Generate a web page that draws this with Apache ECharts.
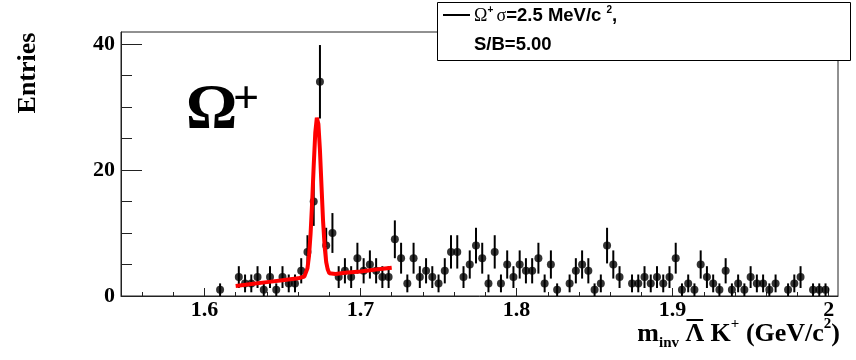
<!DOCTYPE html>
<html>
<head>
<meta charset="utf-8">
<script src="https://cdn.jsdelivr.net/npm/echarts@6/dist/echarts.min.js"></script>
<style>
  html, body { margin: 0; padding: 0; background: #ffffff; }
  #chart { width: 856px; height: 360px; }
</style>
</head>
<body>
<div id="chart"></div>
<script>
// Invariant-mass histogram of anti-Lambda K+ pairs (4 MeV bins)
const binCenters = [
  1.610, 1.614, 1.618, 1.622, 1.626, 1.630, 1.634, 1.638, 1.642, 1.646,
  1.650, 1.654, 1.658, 1.662, 1.666, 1.670, 1.674, 1.678, 1.682, 1.686,
  1.690, 1.694, 1.698, 1.702, 1.706, 1.710, 1.714, 1.718, 1.722, 1.726,
  1.730, 1.734, 1.738, 1.742, 1.746, 1.750, 1.754, 1.758, 1.762, 1.766,
  1.770, 1.774, 1.778, 1.782, 1.786, 1.790, 1.794, 1.798, 1.802, 1.806,
  1.810, 1.814, 1.818, 1.822, 1.826, 1.830, 1.834, 1.838, 1.842, 1.846,
  1.850, 1.854, 1.858, 1.862, 1.866, 1.870, 1.874, 1.878, 1.882, 1.886,
  1.890, 1.894, 1.898, 1.902, 1.906, 1.910, 1.914, 1.918, 1.922, 1.926,
  1.930, 1.934, 1.938, 1.942, 1.946, 1.950, 1.954, 1.958, 1.962, 1.966,
  1.970, 1.974, 1.978, 1.982, 1.986, 1.990, 1.994, 1.998
];

// Counts per bin; null = empty bin (not drawn)
const entries = [
  1, null, null, 3, 2, 2, 3, 1, 3, 1,
  3, 2, 2, 4, 7, 15, 34, 8, 10, 3,
  4, 3, 6, 4, 5, 4, 3, 3, 9, 6,
  2, 6, 3, 4, 3, 2, 4, 7, 7, 3,
  5, 8, 6, 2, 7, 2, 5, 3, 5, 4,
  4, 6, 2, 5, 1, null, 2, 4, 5, 4,
  1, 2, 8, 5, 3, null, 2, 2, 3, 2,
  3, 2, 3, 6, 1, 2, 1, 5, 3, 2,
  1, 4, 1, 2, 1, 3, 2, 2, 1, 2,
  null, 1, 2, 3, null, 1, 1, 1
];

// Fitted signal + background curve
const fitMass = [
  1.620, 1.630, 1.640, 1.650, 1.660, 1.664, 1.666, 1.667, 1.668, 1.669,
  1.670, 1.671, 1.672, 1.673, 1.674, 1.675, 1.676, 1.677, 1.678, 1.679,
  1.680, 1.684, 1.690, 1.700, 1.710, 1.720
];
const fitEntries = [
  1.6, 1.9, 2.2, 2.5, 2.8, 3.1, 4.4, 6.4, 9.9, 14.9,
  20.7, 25.9, 28.3, 27.3, 23.1, 17.4, 11.9, 7.9, 5.4, 4.2,
  3.6, 3.5, 3.7, 3.9, 4.2, 4.5
];

// Axis ticks
const xMajorTicks = [1.6, 1.7, 1.8, 1.9, 2.0];
const xMinorTicks = [1.56, 1.58, 1.62, 1.64, 1.66, 1.68, 1.72, 1.74, 1.76, 1.78,
                     1.82, 1.84, 1.86, 1.88, 1.92, 1.94, 1.96, 1.98];
const yMajorTicks = [0, 20, 40];
const yMinorTicks = [5, 10, 15, 25, 30, 35];

const X_MIN = 1.5465, X_MAX = 2.006;
const Y_MIN = 0, Y_MAX = 41.9;

const SERIF = '"Liberation Serif", "Times New Roman", serif';
const SANS = '"Liberation Sans", Arial, Helvetica, sans-serif';

const points = [];
binCenters.forEach((m, i) => {
  if (entries[i] !== null) points.push([m, entries[i]]);
});
const fitLine = fitMass.map((m, i) => [m, fitEntries[i]]);

// --- x-axis title, laid out piece by piece (sub/superscripts and the bar over Lambda)
const measureCtx = document.createElement('canvas').getContext('2d');
function textWidth(str, font) {
  measureCtx.font = font;
  return measureCtx.measureText(str).width;
}
const TITLE_RIGHT = 840, TITLE_MID = 334;
const fBig = 'bold 26px ' + SERIF, fSmall = 'bold 15px ' + SERIF;
const titlePieces = [
  { t: 'm', f: fBig, dy: 0 },
  { t: 'inv', f: fSmall, dy: 9 },
  { t: ' ', f: fBig, dy: 0 },
  { t: 'Λ', f: fBig, dy: 0, bar: true },
  { t: ' K', f: fBig, dy: 0 },
  { t: '+', f: fSmall, dy: -10 },
  { t: ' (GeV/c', f: fBig, dy: 0 },
  { t: '2', f: fSmall, dy: -10 },
  { t: ')', f: fBig, dy: 0 }
];
const titleWidth = titlePieces.reduce((s, p) => s + textWidth(p.t, p.f), 0);
const titleGraphics = [];
let cx = TITLE_RIGHT - titleWidth;
titlePieces.forEach(p => {
  const w = textWidth(p.t, p.f);
  titleGraphics.push({
    type: 'text', x: cx, y: TITLE_MID + p.dy,
    style: { text: p.t, font: p.f, fill: '#000', align: 'left', verticalAlign: 'middle' }
  });
  if (p.bar) {
    titleGraphics.push({
      type: 'line',
      shape: { x1: cx + 1, y1: TITLE_MID - 14, x2: cx + w - 1, y2: TITLE_MID - 14 },
      style: { stroke: '#000', lineWidth: 2 }
    });
  }
  cx += w;
});

const chart = echarts.init(document.getElementById('chart'), null, { renderer: 'canvas' });

const axisText = { fontFamily: SERIF, fontWeight: 'bold', fontSize: 22, color: '#000' };

chart.setOption({
  animation: false,
  backgroundColor: '#ffffff',
  grid: {
    left: 121, right: 18, top: 32, bottom: 64,
    show: true, borderColor: '#222', borderWidth: 1, backgroundColor: 'transparent'
  },
  xAxis: [
    {
      type: 'value', min: X_MIN, max: X_MAX, position: 'bottom',
      axisLine: { show: true, onZero: false, lineStyle: { color: '#222', width: 1 } },
      axisTick: { show: true, inside: true, length: 8, customValues: xMajorTicks,
                  lineStyle: { color: '#222', width: 1 } },
      axisLabel: Object.assign({ show: true, margin: 3, customValues: xMajorTicks,
                  formatter: v => String(+v.toFixed(1)) }, axisText),
      splitLine: { show: false }
    },
    {
      type: 'value', min: X_MIN, max: X_MAX, position: 'bottom',
      axisLine: { show: false },
      axisTick: { show: true, inside: true, length: 4, customValues: xMinorTicks,
                  lineStyle: { color: '#222', width: 1 } },
      axisLabel: { show: false },
      splitLine: { show: false }
    }
  ],
  yAxis: [
    {
      type: 'value', min: Y_MIN, max: Y_MAX, position: 'left',
      axisLine: { show: true, onZero: false, lineStyle: { color: '#222', width: 1 } },
      axisTick: { show: true, inside: true, length: 21, customValues: yMajorTicks,
                  lineStyle: { color: '#222', width: 1 } },
      axisLabel: Object.assign({ show: true, margin: 6, customValues: yMajorTicks }, axisText),
      splitLine: { show: false }
    },
    {
      type: 'value', min: Y_MIN, max: Y_MAX, position: 'left',
      axisLine: { show: false },
      axisTick: { show: true, inside: true, length: 11, customValues: yMinorTicks,
                  lineStyle: { color: '#222', width: 1 } },
      axisLabel: { show: false },
      splitLine: { show: false }
    }
  ],
  series: [
    {
      // Poisson error bars
      type: 'custom',
      xAxisIndex: 0, yAxisIndex: 0,
      data: points,
      z: 2,
      renderItem: (params, api) => {
        const m = api.value(0), n = api.value(1);
        const err = Math.sqrt(n);
        const p0 = api.coord([m, n - err]);
        const p1 = api.coord([m, n + err]);
        return {
          type: 'line',
          shape: { x1: p0[0], y1: p0[1], x2: p1[0], y2: p1[1] },
          style: { stroke: '#000', lineWidth: 2 }
        };
      }
    },
    {
      type: 'scatter',
      xAxisIndex: 0, yAxisIndex: 0,
      data: points,
      symbol: 'circle',
      symbolSize: 8,
      itemStyle: { color: '#000' },
      z: 3
    },
    {
      type: 'line',
      xAxisIndex: 0, yAxisIndex: 0,
      data: fitLine,
      showSymbol: false,
      symbol: 'none',
      lineStyle: { color: '#ff0000', width: 4 },
      z: 4
    }
  ],
  graphic: [
    // y-axis title
    {
      type: 'text', x: 28, y: 73, rotation: Math.PI / 2,
      style: { text: 'Entries', font: 'bold 26px ' + SERIF, fill: '#000',
               align: 'center', verticalAlign: 'middle' }
    },
    ...titleGraphics,
    // particle label
    {
      type: 'text', x: 186, y: 111,
      style: { text: 'Ω', font: 'bold 64px ' + SERIF, fill: '#000',
               align: 'left', verticalAlign: 'middle' }
    },
    {
      type: 'text', x: 233, y: 101,
      style: { text: '+', font: 'bold 46px ' + SERIF, fill: '#000',
               align: 'left', verticalAlign: 'middle' }
    },
    // stats / legend box
    {
      type: 'rect', z: 10,
      shape: { x: 437.5, y: 2.5, width: 413, height: 58 },
      style: { fill: '#fff', stroke: '#000', lineWidth: 1 }
    },
    {
      type: 'line', z: 11,
      shape: { x1: 443, y1: 15, x2: 470, y2: 15 },
      style: { stroke: '#000', lineWidth: 2 }
    },
    {
      type: 'text', z: 11, x: 474, y: 16,
      style: {
        text: '{s|Ω}{p|+} {s|σ}{b|=2.5 MeV/c }{p|2}{b|,}',
        align: 'left', verticalAlign: 'middle',
        rich: {
          s: { font: '18px ' + SERIF, fill: '#000', lineHeight: 22, verticalAlign: 'middle' },
          b: { font: 'bold 18.5px ' + SANS, fill: '#000', lineHeight: 22, verticalAlign: 'middle' },
          p: { font: 'bold 10px ' + SANS, fill: '#000', lineHeight: 22, verticalAlign: 'top' }
        }
      }
    },
    {
      type: 'text', z: 11, x: 474, y: 45,
      style: { text: 'S/B=5.00', font: 'bold 18.5px ' + SANS, fill: '#000',
               align: 'left', verticalAlign: 'middle' }
    }
  ]
});
</script>
</body>
</html>
